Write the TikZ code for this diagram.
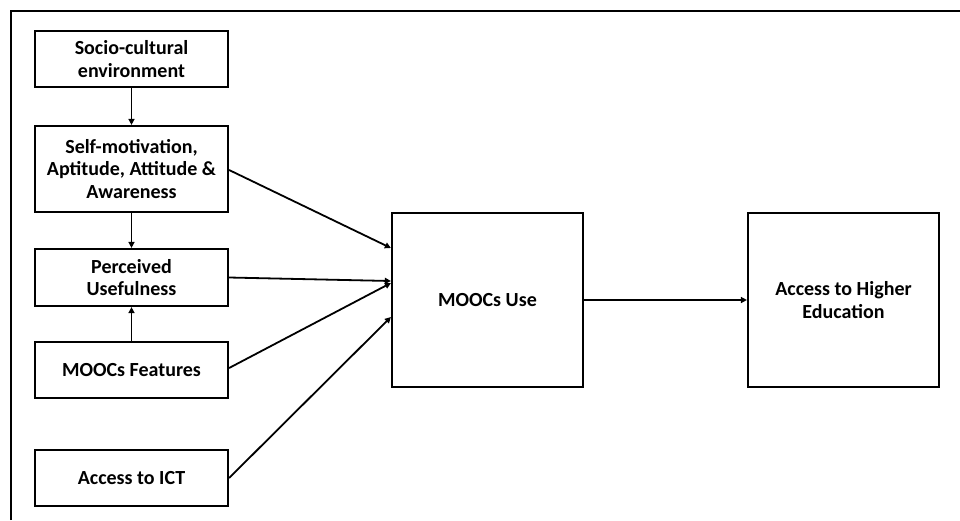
\documentclass[tikz,border=0pt]{standalone}
\usepackage{fontspec}
\setmainfont{Carlito}
\usetikzlibrary{arrows.meta}
\begin{document}
\begin{tikzpicture}[x=1pt,y=-1pt,
  box/.style={draw,line width=2.2pt,align=center,inner sep=0pt,
    font=\bfseries\fontsize{20}{22.5}\selectfont},
  side/.style={box,minimum width=193pt,minimum height=56pt},
  big/.style={box,minimum width=191pt,minimum height=174pt},
  link/.style={line width=1.8pt,-{Triangle[length=6pt,width=6pt]}}]
\useasboundingbox (0,0) rectangle (960,520);
% outer frame (open at right and bottom)
\draw[line width=2.4pt] (11,520) -- (11,11) -- (960,11);

% factor boxes on the left
\node[side] (socio) at (131.5,59) {Socio-cultural\\environment};
\node[side,minimum height=86pt] (self) at (131.5,169) {Self-motivation,\\Aptitude, Attitude \&\\Awareness};
\node[side,minimum height=57pt] (perc) at (131.5,277.5) {Perceived\\Usefulness};
\node[side] (feat) at (131.5,370) {MOOCs Features};
\node[side] (ict) at (131.5,478) {Access to ICT};

% central and outcome boxes
\node[big] (use) at (487.5,300) {MOOCs Use};
\node[big] (high) at (843.5,300) {Access to Higher\\Education};

% vertical links between the left boxes
\draw[link] (socio) -- (self);
\draw[link] (self) -- (perc);
\draw[link] (feat) -- (perc);

% links into MOOCs Use
\draw[link] ([yshift=-1pt]self.east) -- ([yshift=52pt]use.west);
\draw[link] (perc.east) -- ([yshift=19pt]use.west);
\draw[link] ([yshift=2pt]feat.east) -- ([yshift=17pt]use.west);
\draw[link] (ict.east) -- ([yshift=-17pt]use.west);

% outcome
\draw[link] (use) -- (high);
\end{tikzpicture}
\end{document}
